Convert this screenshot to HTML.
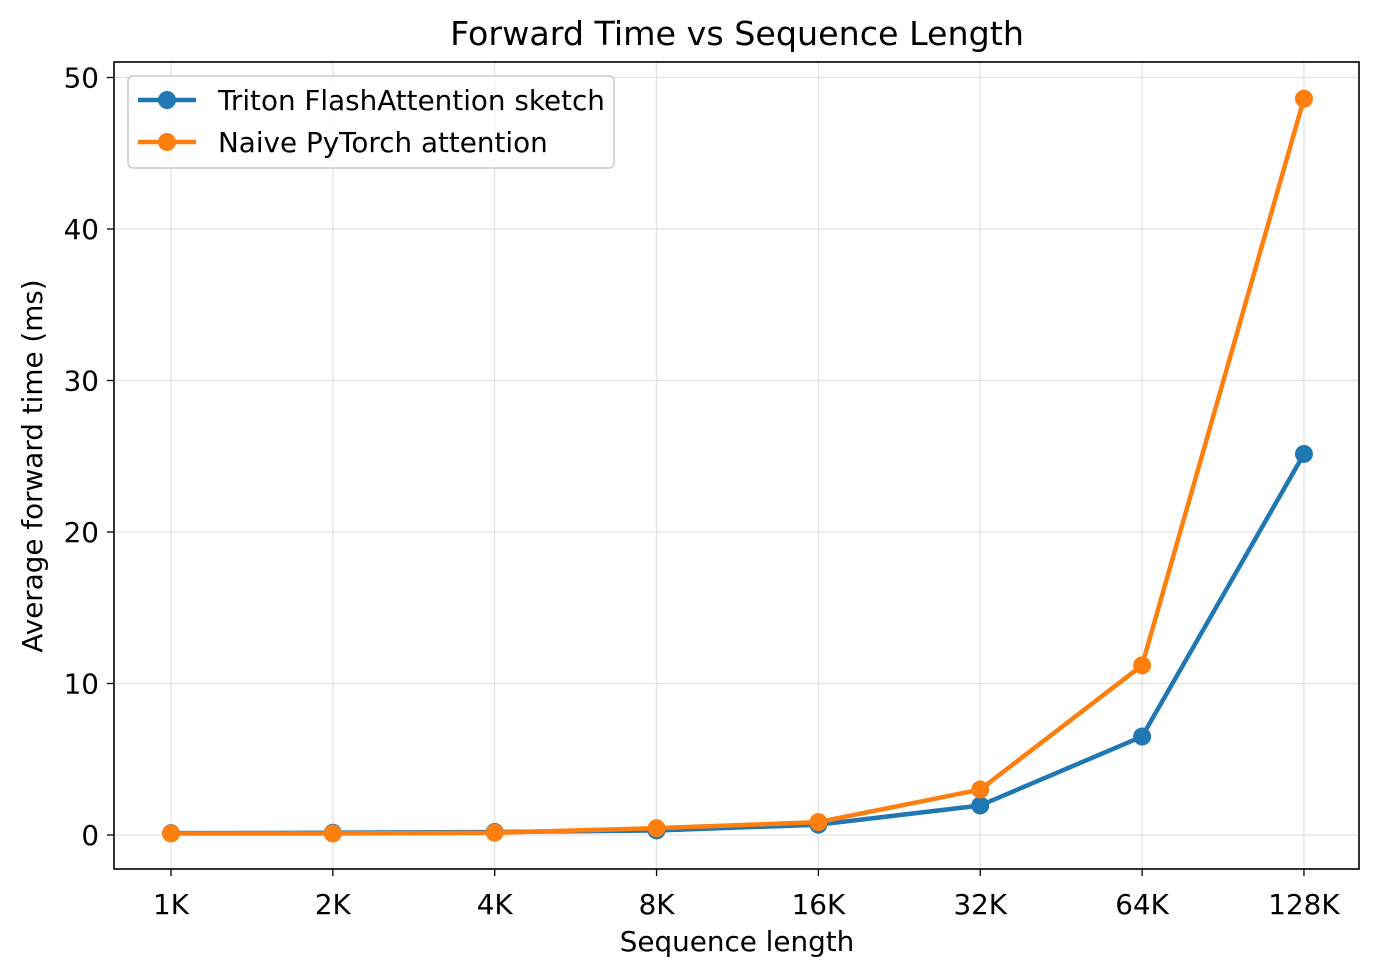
<!DOCTYPE html>
<html><head><meta charset="utf-8"><style>
body{margin:0;background:#fff;}
svg{display:block;font-family:"DejaVu Sans","Liberation Sans",sans-serif;}
</style></head><body>
<svg id="chart" width="1380" height="977" xmlns="http://www.w3.org/2000/svg">
<rect width="1380" height="977" fill="#fff"/>
<text x="737" y="45" text-anchor="middle" font-size="33.3" fill="#000">Forward Time vs Sequence Length</text>
<text x="737" y="951" text-anchor="middle" font-size="27.8">Sequence length</text>
<text transform="translate(42,466) rotate(-90)" text-anchor="middle" font-size="27.8">Average forward time (ms)</text>
<g id="grid"></g>
<g id="ticks"></g>
<g id="series"></g>
<rect x="114" y="62" width="1245" height="807" fill="none" stroke="#000" stroke-width="1.6"/>
<g>
<rect x="128" y="76" width="486" height="92" rx="5" fill="#fff" fill-opacity="0.8" stroke="#ccc" stroke-width="1.5"/>
<g><line x1="138" y1="100" x2="196" y2="100" stroke="#1f77b4" stroke-width="4.5"/><circle cx="167" cy="100" r="9" fill="#1f77b4"/><text x="218" y="110" font-size="27.8">Triton FlashAttention sketch</text></g>
<g><line x1="138" y1="142" x2="196" y2="142" stroke="#ff7f0e" stroke-width="4.5"/><circle cx="167" cy="142" r="9" fill="#ff7f0e"/><text x="218" y="152" font-size="27.8">Naive PyTorch attention</text></g>
</g>
</svg>
<script>
const categories=["1K","2K","4K","8K","16K","32K","64K","128K"];
const tritonValues=[0.12,0.15,0.2,0.3,0.68,1.95,6.5,25.15];
const naiveValues=[0.1,0.1,0.15,0.45,0.85,3.0,11.2,48.6];
const yTicks=[0,10,20,30,40,50];
const NS="http://www.w3.org/2000/svg";
function xScale(i){return 171+i*161.85;}
function yScale(v){return 835-v*15.15;}
function mk(tag,attrs,parent){const e=document.createElementNS(NS,tag);for(const k in attrs)e.setAttribute(k,attrs[k]);parent.appendChild(e);return e;}
const grid=document.getElementById('grid'),ticks=document.getElementById('ticks'),series=document.getElementById('series');
categories.forEach((c,i)=>{
  const x=xScale(i);
  const g=mk('line',{x1:x,x2:x,y1:62,y2:869,stroke:'#e3e3e3','stroke-width':1.3},grid);
  
  
  mk('line',{x1:x,x2:x,y1:869,y2:876,stroke:'#000','stroke-width':1.3},ticks);
  const t=mk('text',{x:x,y:914,'text-anchor':'middle','font-size':27.8},ticks);
  t.textContent=c;
  
  
});
yTicks.forEach(v=>{
  const y=yScale(v);
  const g=mk('line',{x1:114,x2:1359,y1:y,y2:y,stroke:'#e3e3e3','stroke-width':1.3},grid);
  
  
  mk('line',{x1:107,x2:114,y1:y,y2:y,stroke:'#000','stroke-width':1.3},ticks);
  const t=mk('text',{x:99,y:y+10,'text-anchor':'end','font-size':27.8},ticks);
  t.textContent=v;
  
  
});
function draw(vals,color,name){
  const pts=vals.map((v,i)=>xScale(i)+','+yScale(v)).join(' ');
  const l=mk('polyline',{points:pts,fill:'none',stroke:color,'stroke-width':4.5,'stroke-linejoin':'round'},series);
  
  
  vals.forEach((v,i)=>{
    const c=mk('circle',{cx:xScale(i),cy:yScale(v),r:9,fill:color},series);
    
    
  });
}
draw(tritonValues,'#1f77b4','triton');
draw(naiveValues,'#ff7f0e','naive');
</script>
</body></html>
